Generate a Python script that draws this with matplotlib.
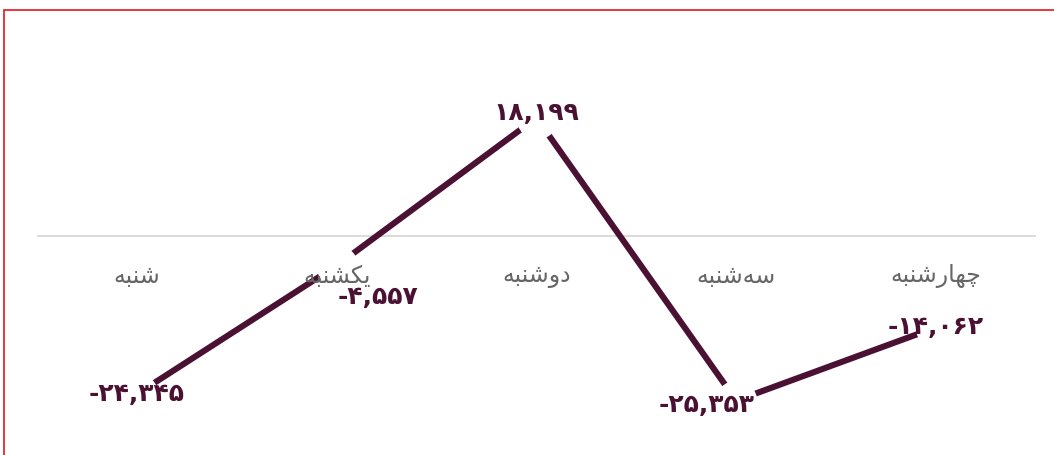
import matplotlib
matplotlib.use("Agg")
import matplotlib.pyplot as plt
from matplotlib.patches import Rectangle

days = ["شنبه", "یکشنبه", "دوشنبه", "سه‌شنبه", "چهارشنبه"]
values = [-24345, -4557, 18199, -25353, -14062]
# label offsets in pixels (dx, dy)
label_offsets = [(0, 0), (41, -31), (0, 5), (-30, -4), (0, 0)]

# isolated, final, initial, medial
FORMS = {
    "\u0634": ("\uFEB5", "\uFEB6", "\uFEB7", "\uFEB8"),
    "\u0646": ("\uFEE5", "\uFEE6", "\uFEE7", "\uFEE8"),
    "\u0628": ("\uFE8F", "\uFE90", "\uFE91", "\uFE92"),
    "\u0647": ("\uFEE9", "\uFEEA", "\uFEEB", "\uFEEC"),
    "\u06CC": ("\uFBFC", "\uFBFD", "\uFBFE", "\uFBFF"),
    "\u06A9": ("\uFB8E", "\uFB8F", "\uFB90", "\uFB91"),
    "\u0633": ("\uFEB1", "\uFEB2", "\uFEB3", "\uFEB4"),
    "\u0686": ("\uFB7A", "\uFB7B", "\uFB7C", "\uFB7D"),
    "\u062F": ("\uFEA9", "\uFEAA", None, None),
    "\u0648": ("\uFEED", "\uFEEE", None, None),
    "\u0627": ("\uFE8D", "\uFE8E", None, None),
    "\u0631": ("\uFEAD", "\uFEAE", None, None),
}


def shape(word):
    # poor man's arabic shaping, matplotlib does not join letters
    out = []
    chars = list(word)
    for i, c in enumerate(chars):
        if c not in FORMS:
            continue
        prev = chars[i - 1] if i > 0 else None
        nxt = chars[i + 1] if i + 1 < len(chars) else None
        join_prev = prev in FORMS and FORMS[prev][2] is not None
        join_next = nxt in FORMS and FORMS[c][2] is not None
        f = FORMS[c]
        if join_prev and join_next:
            out.append(f[3])
        elif join_prev:
            out.append(f[1])
        elif join_next:
            out.append(f[2])
        else:
            out.append(f[0])
    return "".join(reversed(out))


def fa_num(v):
    s = f"{v:,}"
    return s.translate(str.maketrans("0123456789", "۰۱۲۳۴۵۶۷۸۹"))


plt.rcParams["font.family"] = ["DejaVu Sans"]
line_color = "#4b1133"

fig = plt.figure(figsize=(10.54, 4.55), dpi=100)
ax = fig.add_axes([37 / 1054, 19 / 455, 999 / 1054, 400 / 455])

x = list(range(len(days)))
ax.plot(x, values, color=line_color, lw=4.4, solid_capstyle="butt", zorder=2)
ax.plot(x, values, "o", ms=29, color="white", zorder=3)

for i, v in enumerate(values):
    dx, dy = label_offsets[i]
    ax.annotate(fa_num(v), (i, v), xytext=(dx * 0.72, dy * 0.72), textcoords="offset points",
                ha="center", va="center", fontsize=18, fontweight="bold", color=line_color, zorder=5)

ax.axhline(0, color="#d9d9d9", lw=1.3, zorder=1)
for i, d in enumerate(days):
    ax.annotate(shape(d), (i, 0), xytext=(0, -40 * 0.72), textcoords="offset points",
                ha="center", va="center", fontsize=17, color="#666666", zorder=4)

ax.set_xlim(-0.5, 4.5)
ax.set_ylim(-30800, 30800)
ax.axis("off")

fig.patches.append(Rectangle((3.5 / 1054, -0.1), 2, (455 - 9.5) / 455 + 0.1, transform=fig.transFigure,
                             fill=False, edgecolor="#e8141c", lw=1.2))

fig.savefig("out.png", dpi=100)
